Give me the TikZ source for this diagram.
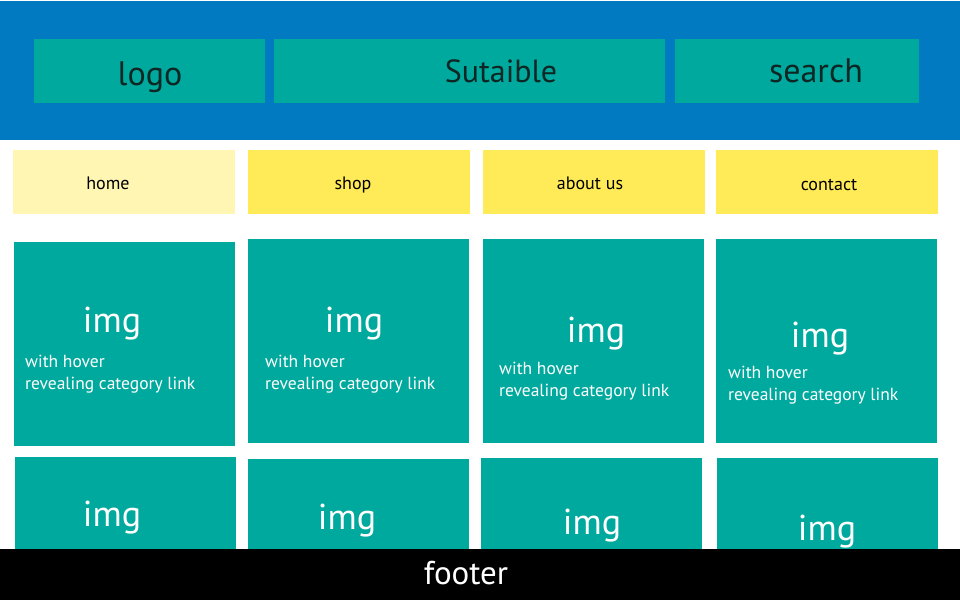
\documentclass[tikz,border=0pt]{standalone}
\usepackage{fontspec}
\setmainfont{PT Sans}
\definecolor{headblue}{RGB}{2,122,194}
\definecolor{tealbox}{RGB}{0,169,157}
\definecolor{navyellow}{RGB}{255,235,88}
\definecolor{navpale}{RGB}{255,246,180}
\definecolor{headtext}{RGB}{14,38,36}

\begin{document}
\begin{tikzpicture}[x=1pt,y=-1pt,
  tile/.style={fill=tealbox,draw=none},
  navbox/.style={fill=navyellow,draw=none},
  headlabel/.style={font=\fontsize{34}{38}\selectfont,text=headtext,anchor=base},
  navlabel/.style={font=\fontsize{18}{20}\selectfont,text=black,anchor=base},
  imglabel/.style={font=\fontsize{36}{40}\selectfont,text=white,anchor=base},
  hoverlabel/.style={font=\fontsize{17.5}{22}\selectfont,text=white,anchor=base west,align=left,inner sep=0pt}]
\useasboundingbox (0,0) rectangle (960,600);
\fill[white] (0,0) rectangle (960,600);

% header
\fill[headblue] (0,1) rectangle (960,140);
\fill[tile] (34,39) rectangle (265,103);
\fill[tile] (274,39) rectangle (665,103);
\fill[tile] (675,39) rectangle (919,103);
\node[headlabel] (logo) at (150,85) {logo};
\node[headlabel,font=\fontsize{32}{36}\selectfont] (title) at (501,82) {Sutaible};
\node[headlabel] (search) at (816,82) {search};

% menu
\fill[navpale] (13,150) rectangle (235,214);
\fill[navbox] (248,150) rectangle (470,214);
\fill[navbox] (483,150) rectangle (705,214);
\fill[navbox] (716,150) rectangle (938,214);
\node[navlabel] (home) at (108,189) {home};
\node[navlabel] (shop) at (353,189) {shop};
\node[navlabel] (about) at (590,189) {about us};
\node[navlabel] (contact) at (829,190) {contact};

% first row of tiles (hover text: base is the last line)
\fill[tile] (14,242) rectangle (235,446);
\fill[tile] (248,239) rectangle (469,443);
\fill[tile] (483,239) rectangle (704,443);
\fill[tile] (716,239) rectangle (937,443);
\node[imglabel] (imgA) at (112,332) {img};
\node[imglabel] (imgB) at (354,332) {img};
\node[imglabel] (imgC) at (596,342) {img};
\node[imglabel] (imgD) at (820,347) {img};
\node[hoverlabel] (hoverA) at (25,389) {with hover\\revealing category link};
\node[hoverlabel] (hoverB) at (265,389) {with hover\\revealing category link};
\node[hoverlabel] (hoverC) at (499,396) {with hover\\revealing category link};
\node[hoverlabel] (hoverD) at (728,400) {with hover\\revealing category link};

% second row of tiles
\fill[tile] (15,457) rectangle (236,549);
\fill[tile] (248,459) rectangle (469,549);
\fill[tile] (481,458) rectangle (702,549);
\fill[tile] (717,458) rectangle (938,549);
\node[imglabel] (imgE) at (112,526) {img};
\node[imglabel] (imgF) at (347,529) {img};
\node[imglabel] (imgG) at (592,534) {img};
\node[imglabel] (imgH) at (827,540) {img};

% footer
\fill[black] (0,549) rectangle (960,600);
\node[imglabel,font=\fontsize{33}{36}\selectfont] (footer) at (466,584) {footer};

\end{tikzpicture}
\end{document}
